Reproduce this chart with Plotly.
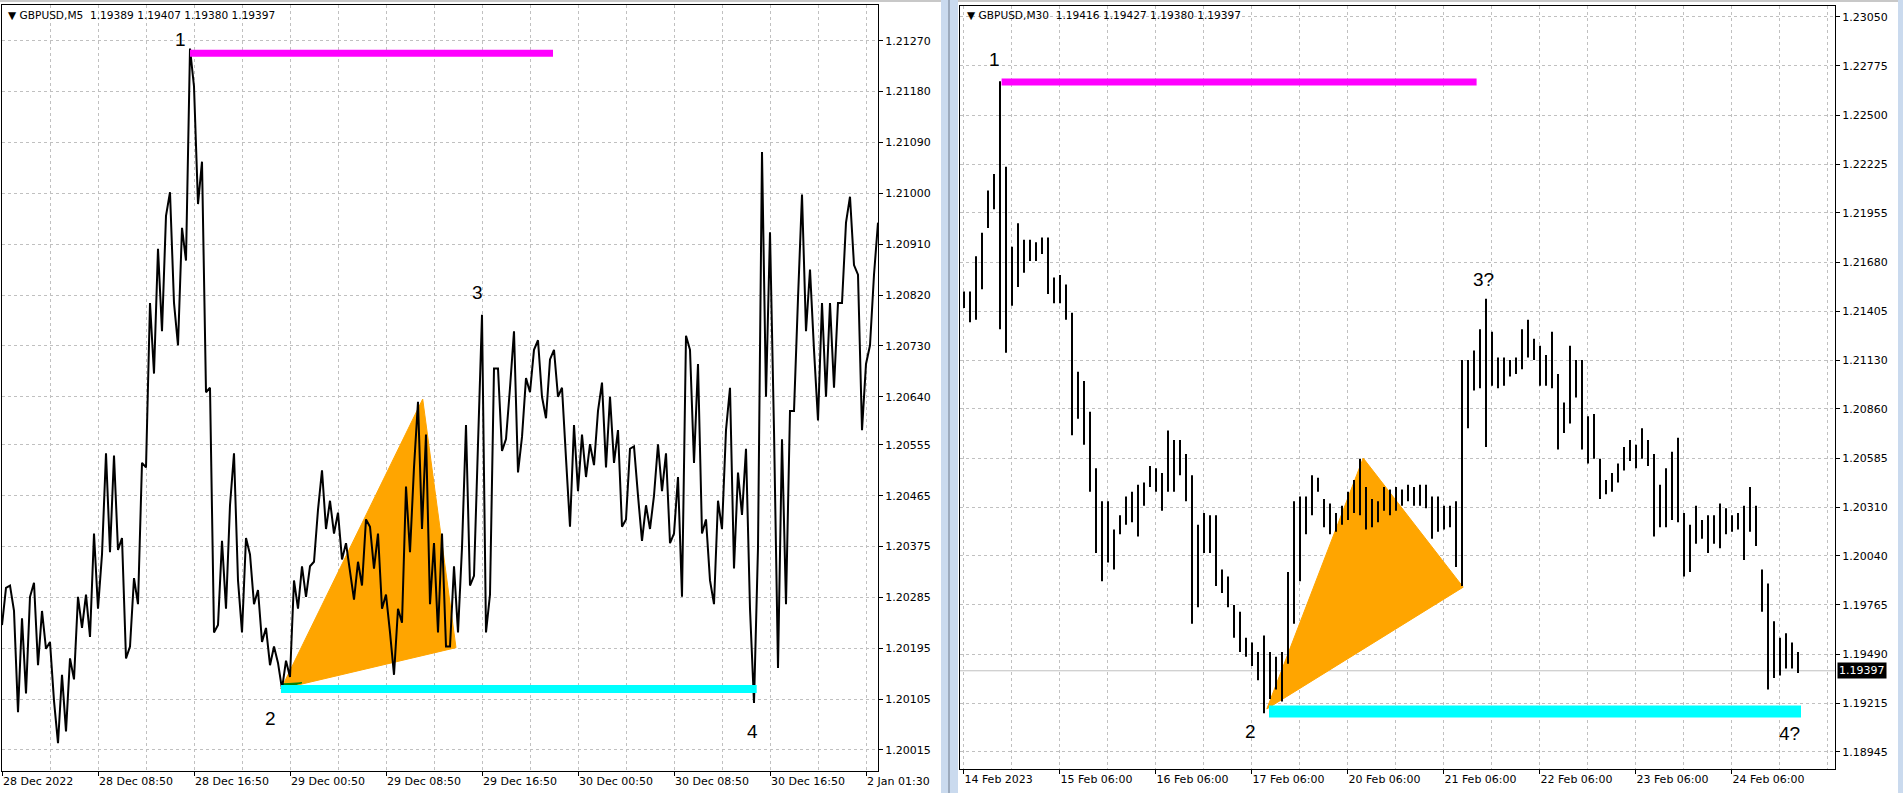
import plotly.graph_objects as go

W, H = 1903, 793

# ---------------- Left chart: GBPUSD M5 (sampled every 8 bars: high / low) ----------------
m5_high = [1.20302, 1.20306, 1.20248, 1.20286, 1.20311, 1.20261, 1.20206, 1.20148, 1.20177, 1.20286,
           1.20290, 1.20398, 1.20361, 1.20540, 1.20536, 1.20390, 1.20319, 1.20523, 1.20806, 1.20902,
           1.20960, 1.21002, 1.20939, 1.21256, 1.21189, 1.21056, 1.20656, 1.20385, 1.20448, 1.20540,
           1.20390, 1.20361, 1.20298, 1.20231, 1.20198, 1.20173, 1.20315, 1.20340, 1.20340, 1.20440,
           1.20510, 1.20456, 1.20435, 1.20381, 1.20348, 1.20423, 1.20410, 1.20398, 1.20290, 1.20265,
           1.20481, 1.20515, 1.20631, 1.20573, 1.20381, 1.20398, 1.20340, 1.20373, 1.20590, 1.20556,
           1.20785, 1.20690, 1.20690, 1.20656, 1.20756, 1.20673, 1.20723, 1.20740, 1.20706, 1.20723,
           1.20656, 1.20590, 1.20573, 1.20556, 1.20615, 1.20665, 1.20640, 1.20581, 1.20548, 1.20552,
           1.20448, 1.20465, 1.20556, 1.20540, 1.20498, 1.20748, 1.20723, 1.20698, 1.20423, 1.20456,
           1.20581, 1.20656, 1.20506, 1.20548, 1.20373, 1.21073, 1.20931, 1.20565, 1.20615, 1.20814,
           1.20998, 1.20865, 1.20806, 1.20806, 1.20806, 1.20948, 1.20994, 1.20856, 1.20731, 1.20948]
m5_low = [1.20236, 1.20261, 1.20082, 1.20115, 1.20165, 1.20194, 1.20102, 1.20027, 1.20048, 1.20140,
          1.20231, 1.20215, 1.20265, 1.20365, 1.20369, 1.20177, 1.20198, 1.20273, 1.20515, 1.20681,
          1.20756, 1.20806, 1.20731, 1.20881, 1.20981, 1.20648, 1.20223, 1.20236, 1.20265, 1.20315,
          1.20223, 1.20273, 1.20206, 1.20165, 1.20169, 1.20123, 1.20144, 1.20265, 1.20286, 1.20348,
          1.20406, 1.20398, 1.20352, 1.20327, 1.20281, 1.20306, 1.20336, 1.20265, 1.20223, 1.20148,
          1.20240, 1.20365, 1.20406, 1.20273, 1.20223, 1.20198, 1.20198, 1.20223, 1.20306, 1.20323,
          1.20223, 1.20290, 1.20544, 1.20565, 1.20506, 1.20569, 1.20648, 1.20640, 1.20602, 1.20640,
          1.20531, 1.20410, 1.20473, 1.20498, 1.20519, 1.20515, 1.20523, 1.20410, 1.20423, 1.20465,
          1.20385, 1.20406, 1.20473, 1.20381, 1.20398, 1.20286, 1.20523, 1.20398, 1.20315, 1.20273,
          1.20406, 1.20336, 1.20431, 1.20265, 1.20098, 1.20640, 1.20581, 1.20160, 1.20273, 1.20615,
          1.20756, 1.20723, 1.20598, 1.20640, 1.20656, 1.20806, 1.20873, 1.20581, 1.20698, 1.20856]
m5_step = 8
m5_xticks = [0, 96, 192, 288, 384, 480, 576, 672, 768, 864]
m5_xlabels = ["28 Dec 2022", "28 Dec 08:50", "28 Dec 16:50", "29 Dec 00:50", "29 Dec 08:50",
              "29 Dec 16:50", "30 Dec 00:50", "30 Dec 08:50", "30 Dec 16:50", "2 Jan 01:30"]
m5_yticks = [1.21270, 1.21180, 1.21090, 1.21000, 1.20910, 1.20820, 1.20730, 1.20640,
             1.20555, 1.20465, 1.20375, 1.20285, 1.20195, 1.20105, 1.20015]
m5_tri_x = [279, 420.7, 454, 279]
m5_tri_y = [1.20123, 1.20636, 1.20196, 1.20123]
m5_green_x = [279, 300, 281, 279]
m5_green_y = [1.20123, 1.20134, 1.20132, 1.20123]
m5_top_x, m5_top_y = [188, 551], [1.21248, 1.21248]
m5_bot_x, m5_bot_y = [279, 754.7], [1.20123, 1.20123]
m5_labels = ["1", "2", "3", "4"]
m5_label_x = [178, 268, 475, 750]
m5_label_y = [1.21273, 1.20071, 1.20825, 1.20047]

# ---------------- Right chart: GBPUSD M30 (sampled every 3 bars: high / low) ----------------
m30_high = [1.21515, 1.21515, 1.21712, 1.21844, 1.22080, 1.22172, 1.22690, 1.22212, 1.21765, 1.21896,
            1.21804, 1.21804, 1.21791, 1.21817, 1.21817, 1.21594, 1.21607, 1.21554, 1.21396, 1.21067,
            1.21015, 1.20844, 1.20528, 1.20344, 1.20344, 1.20186, 1.20265, 1.20370, 1.20397, 1.20436,
            1.20449, 1.20541, 1.20528, 1.20502, 1.20739, 1.20686, 1.20686, 1.20607, 1.20489, 1.20212,
            1.20278, 1.20265, 1.20265, 1.19963, 1.19923, 1.19765, 1.19726, 1.19581, 1.19555, 1.19502,
            1.19594, 1.19502, 1.19476, 1.19502, 1.19949, 1.20344, 1.20370, 1.20370, 1.20489, 1.20475,
            1.20357, 1.20331, 1.20278, 1.20318, 1.20397, 1.20462, 1.20581, 1.20423, 1.20357, 1.20344,
            1.20423, 1.20410, 1.20423, 1.20410, 1.20436, 1.20423, 1.20436, 1.20436, 1.20370, 1.20370,
            1.20318, 1.20318, 1.20344, 1.21133, 1.21133, 1.21186, 1.21304, 1.21475, 1.21291, 1.21146,
            1.21146, 1.21133, 1.21146, 1.21304, 1.21357, 1.21252, 1.21212, 1.21160, 1.21291, 1.21054,
            1.20896, 1.21212, 1.21133, 1.21133, 1.20818, 1.20831, 1.20581, 1.20462, 1.20502, 1.20554,
            1.20647, 1.20686, 1.20660, 1.20752, 1.20686, 1.20607, 1.20436, 1.20528, 1.20620, 1.20699,
            1.20278, 1.20212, 1.20318, 1.20239, 1.20265, 1.20265, 1.20331, 1.20305, 1.20265, 1.20278,
            1.20318, 1.20423, 1.20318, 1.19963, 1.19884, 1.19673, 1.19581, 1.19607, 1.19555, 1.19502]
m30_low = [1.21423, 1.21344, 1.21357, 1.21528, 1.21870, 1.21975, 1.21304, 1.21173, 1.21436, 1.21541,
           1.21620, 1.21686, 1.21686, 1.21725, 1.21502, 1.21449, 1.21449, 1.21357, 1.20712, 1.20804,
           1.20660, 1.20397, 1.20055, 1.19897, 1.20002, 1.19963, 1.20160, 1.20212, 1.20226, 1.20147,
           1.20318, 1.20423, 1.20397, 1.20291, 1.20397, 1.20397, 1.20489, 1.20344, 1.19660, 1.19752,
           1.20055, 1.20055, 1.19870, 1.19831, 1.19752, 1.19581, 1.19502, 1.19476, 1.19423, 1.19344,
           1.19160, 1.19239, 1.19292, 1.19226, 1.19436, 1.19660, 1.19897, 1.20160, 1.20265, 1.20397,
           1.20199, 1.20160, 1.20173, 1.20212, 1.20239, 1.20278, 1.20265, 1.20186, 1.20199, 1.20226,
           1.20291, 1.20265, 1.20291, 1.20318, 1.20344, 1.20318, 1.20318, 1.20305, 1.20134, 1.20173,
           1.20186, 1.20199, 1.19976, 1.19870, 1.20752, 1.20962, 1.20975, 1.20647, 1.20989, 1.20975,
           1.20989, 1.21041, 1.21054, 1.21081, 1.21146, 1.21133, 1.20989, 1.20989, 1.20975, 1.20633,
           1.20725, 1.20778, 1.20923, 1.20633, 1.20554, 1.20581, 1.20357, 1.20383, 1.20397, 1.20449,
           1.20515, 1.20568, 1.20528, 1.20581, 1.20541, 1.20147, 1.20199, 1.20199, 1.20239, 1.20226,
           1.19923, 1.19949, 1.20107, 1.20134, 1.20055, 1.20107, 1.20081, 1.20160, 1.20173, 1.20186,
           1.20015, 1.20173, 1.20094, 1.19726, 1.19292, 1.19357, 1.19370, 1.19410, 1.19410, 1.19384]
m30_step = 3
m30_xticks = [0.7, 48.7, 96.7, 144.7, 192.7, 240.7, 288.7, 336.7, 384.7]
m30_xlabels = ["14 Feb 2023", "15 Feb 06:00", "16 Feb 06:00", "17 Feb 06:00", "20 Feb 06:00",
               "21 Feb 06:00", "22 Feb 06:00", "23 Feb 06:00", "24 Feb 06:00"]
m30_yticks = [1.23050, 1.22775, 1.22500, 1.22225, 1.21955, 1.21680, 1.21405, 1.21130,
              1.20860, 1.20585, 1.20310, 1.20040, 1.19765, 1.19490, 1.19215, 1.18945]
m30_tri_x = [152.4, 200.6, 250.6, 152.4]
m30_tri_y = [1.19184, 1.20585, 1.19864, 1.19184]
m30_top_x, m30_top_y = [19.8, 257.3], [1.22685, 1.22685]
m30_bot_x, m30_bot_y = [153.5, 419.5], [1.19170, 1.19170]
m30_labels = ["1", "2", "3?", "4?"]
m30_label_x = [16.5, 144, 260.5, 413.5]
m30_label_y = [1.22811, 1.19056, 1.21580, 1.19049]
last_price = 1.19397

# ---------------- helpers ----------------
def zigzag(highs, lows, step):
    xs, ys = [], []
    n = len(highs)
    for k in range(n):
        mid = (highs[k] + lows[k]) / 2
        nxt = (highs[k + 1] + lows[k + 1]) / 2 if k + 1 < n else mid
        x0 = step * k
        xs += [x0, x0 + step / 2]
        ys += [lows[k], highs[k]] if nxt >= mid else [highs[k], lows[k]]
    return xs, ys


def bars(highs, lows, step):
    xs, ys = [], []
    for k in range(len(highs)):
        x = step * k + 1
        xs += [x, x, None]
        ys += [lows[k], highs[k], None]
    return xs, ys


fig = go.Figure()

# left
zx, zy = zigzag(m5_high, m5_low, m5_step)
fig.add_trace(go.Scatter(x=m5_tri_x, y=m5_tri_y, fill="toself", fillcolor="#FFA500",
                         mode="lines", line=dict(color="#FFA500", width=1), xaxis="x", yaxis="y"))
fig.add_trace(go.Scatter(x=m5_green_x, y=m5_green_y, fill="toself", fillcolor="#008000",
                         mode="lines", line=dict(color="#008000", width=1), xaxis="x", yaxis="y"))
fig.add_trace(go.Scatter(x=zx, y=zy, mode="lines", line=dict(color="black", width=2),
                         xaxis="x", yaxis="y"))
fig.add_trace(go.Scatter(x=m5_top_x, y=m5_top_y, mode="lines", line=dict(color="#FF00FF", width=7),
                         xaxis="x", yaxis="y"))
fig.add_trace(go.Scatter(x=m5_bot_x, y=m5_bot_y, mode="lines", line=dict(color="#00FFFF", width=8),
                         xaxis="x", yaxis="y"))

# right
bx, by = bars(m30_high, m30_low, m30_step)
fig.add_trace(go.Scatter(x=[-1, 436.5], y=[last_price, last_price], mode="lines",
                         line=dict(color="#C0C0C0", width=1), xaxis="x2", yaxis="y2"))
fig.add_trace(go.Scatter(x=m30_tri_x, y=m30_tri_y, fill="toself", fillcolor="#FFA500",
                         mode="lines", line=dict(color="#FFA500", width=1), xaxis="x2", yaxis="y2"))
fig.add_trace(go.Scatter(x=bx, y=by, mode="lines", line=dict(color="black", width=2),
                         xaxis="x2", yaxis="y2", connectgaps=False))
fig.add_trace(go.Scatter(x=m30_top_x, y=m30_top_y, mode="lines", line=dict(color="#FF00FF", width=7),
                         xaxis="x2", yaxis="y2"))
fig.add_trace(go.Scatter(x=m30_bot_x, y=m30_bot_y, mode="lines", line=dict(color="#00FFFF", width=12),
                         xaxis="x2", yaxis="y2"))

annotations = []
for t, x, y in zip(m5_labels, m5_label_x, m5_label_y):
    annotations.append(dict(text=t, x=x, y=y, xref="x", yref="y", showarrow=False,
                            font=dict(family="Liberation Sans", size=19, color="black")))
for t, x, y in zip(m30_labels, m30_label_x, m30_label_y):
    annotations.append(dict(text=t, x=x, y=y, xref="x2", yref="y2", showarrow=False,
                            font=dict(family="Liberation Sans", size=19, color="black")))

title_font = dict(family="DejaVu Sans", size=10.6, color="black")
annotations.append(dict(text="▼ GBPUSD,M5  1.19389 1.19407 1.19380 1.19397", x=6 / W, y=1 - 15 / H,
                        xref="paper", yref="paper", xanchor="left", yanchor="middle",
                        showarrow=False, font=title_font))
annotations.append(dict(text="▼ GBPUSD,M30  1.19416 1.19427 1.19380 1.19397", x=965 / W, y=1 - 15 / H,
                        xref="paper", yref="paper", xanchor="left", yanchor="middle",
                        showarrow=False, font=title_font))
annotations.append(dict(text=f"{last_price:.5f}", x=1837 / W, y=last_price, xref="paper", yref="y2",
                        xanchor="left", yanchor="middle", showarrow=False, bgcolor="black",
                        borderpad=1, font=dict(family="DejaVu Sans", size=11, color="white")))

tick_font = dict(family="DejaVu Sans", size=11, color="black")
grid = dict(showgrid=True, gridcolor="#C0C0C0", griddash="3px,3px", gridwidth=1)


def xaxis_cfg(domain, rng, ticks, labels, anchor, minor_step):
    return dict(domain=domain, range=rng, tickvals=ticks, ticktext=labels, anchor=anchor,
                automargin=False,
                ticks="outside", ticklen=4, tickcolor="black", ticklabelposition="outside right",
                showline=True, linecolor="black", linewidth=1, mirror=True, zeroline=False,
                tickfont=tick_font, minor=dict(dtick=minor_step, tick0=ticks[0], showgrid=True,
                                               gridcolor="#C0C0C0", griddash="3px,3px", ticks=""),
                **grid)


def yaxis_cfg(domain, rng, ticks, anchor):
    return dict(domain=domain, range=rng, tickvals=ticks, ticktext=[f"{v:.5f}" for v in ticks],
                side="right", anchor=anchor, ticks="outside", ticklen=4, tickcolor="black",
                automargin=False,
                showline=True, linecolor="black", linewidth=1, mirror=True, zeroline=False,
                tickfont=tick_font, **grid)


shapes = [
    dict(type="rect", xref="paper", yref="paper", x0=0, x1=1, y0=1 - 2 / H, y1=1,
         fillcolor="#C8C8C8", line_width=0, layer="above"),
    dict(type="rect", xref="paper", yref="paper", x0=941 / W, x1=958 / W, y0=0, y1=1,
         fillcolor="#CADAEE", line_width=0, layer="above"),
    dict(type="line", xref="paper", yref="paper", x0=949 / W, x1=949 / W, y0=0, y1=1,
         line=dict(color="#6E7B8B", width=1), layer="above"),
    dict(type="rect", xref="paper", yref="paper", x0=1898 / W, x1=1, y0=0, y1=1,
         fillcolor="#CADAEE", line_width=0, layer="above"),
]

fig.update_layout(
    width=W, height=H, margin=dict(l=0, r=0, t=0, b=0, autoexpand=False), autosize=False,
    paper_bgcolor="white", plot_bgcolor="white", showlegend=False, hovermode=False,
    xaxis=xaxis_cfg([2 / W, 878 / W], [0, 876], m5_xticks, m5_xlabels, "y", 48),
    yaxis=yaxis_cfg([22 / H, 788 / H], [1.199778, 1.213332], m5_yticks, "x"),
    xaxis2=xaxis_cfg([960 / W, 1835 / W], [-1, 436.5], m30_xticks, m30_xlabels, "y2", 24),
    yaxis2=yaxis_cfg([24 / H, 787 / H], [1.188484, 1.231098], m30_yticks, "x2"),
    annotations=annotations, shapes=shapes,
)

fig.write_html("out.html", config={"displayModeBar": False},
               post_script="document.body.style.margin='0';document.body.style.overflow='hidden';")
